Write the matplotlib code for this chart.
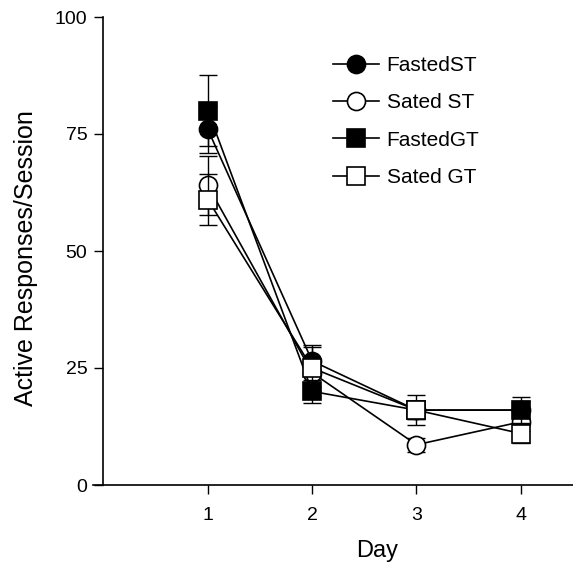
import matplotlib
matplotlib.use("Agg")
import matplotlib.pyplot as plt
import numpy as np

plt.rcParams['font.family'] = ['Liberation Sans', 'DejaVu Sans']

days = [1, 2, 3, 4]
labels = ["FastedST", "Sated ST", "FastedGT", "Sated GT"]
fasted_st = [76, 26.5, 16, 16]
fasted_st_sem = [5.0, 3.0, 2.0, 2.0]
sated_st = [64, 24, 8.6, 13.5]
sated_st_sem = [6.3, 3.0, 1.5, 2.0]
fasted_gt = [80, 20, 16, 16]
fasted_gt_sem = [7.6, 2.5, 3.2, 2.8]
sated_gt = [61, 25, 16, 11]
sated_gt_sem = [5.5, 5.0, 2.0, 2.0]

yticks = [0, 25, 50, 75, 100]
xticks = [1, 2, 3, 4]

fig = plt.figure(figsize=(5.73, 5.64), dpi=100)
ax = fig.add_axes([93/573, 1-485/564, (573-93)/573, (485-17)/564])

series = [
    (fasted_st, fasted_st_sem, 'o', 'black'),
    (sated_st, sated_st_sem, 'o', 'white'),
    (fasted_gt, fasted_gt_sem, 's', 'black'),
    (sated_gt, sated_gt_sem, 's', 'white'),
]
for i, ((vals, sem, mk, fc), lab) in enumerate(zip(series, labels)):
    ax.errorbar(days, vals, yerr=sem, fmt='none', ecolor='black',
                elinewidth=1.0, capsize=6.5, capthick=1.0, zorder=2 + i)
    ax.plot(days, vals, color='black', lw=1.2, marker=mk, ms=13 if mk == 'o' else 12.5,
            mfc=fc, mec='black', mew=1.2, label=lab, zorder=2 + i)

ax.set_xlim(-0.1, 4.5)
ax.set_ylim(0, 100)
ax.spines['left'].set_position(('data', 0))
ax.spines['top'].set_visible(False)
ax.spines['right'].set_visible(False)
for s in ['left', 'bottom']:
    ax.spines[s].set_linewidth(1.2)
ax.set_xticks(xticks)
ax.set_yticks(yticks)
ax.tick_params(direction='out', length=6.5, width=1.0, labelsize=14)
ax.tick_params(axis='y', pad=5)
ax.tick_params(axis='x', pad=9)
ax.set_xlabel("Day", fontsize=17)
ax.xaxis.set_label_coords((377-93)/480, -0.118)
ax.set_ylabel("Active Responses/Session", fontsize=18)
ax.yaxis.set_label_coords(-0.115, 0.485)

leg = ax.legend(loc='upper left', bbox_to_anchor=((333-93)/480, (485-56)/468),
                frameon=False, fontsize=15, handlelength=2.2, handletextpad=0.38,
                labelspacing=0.88, borderpad=0, borderaxespad=0)

fig.savefig("out.png", dpi=100)
